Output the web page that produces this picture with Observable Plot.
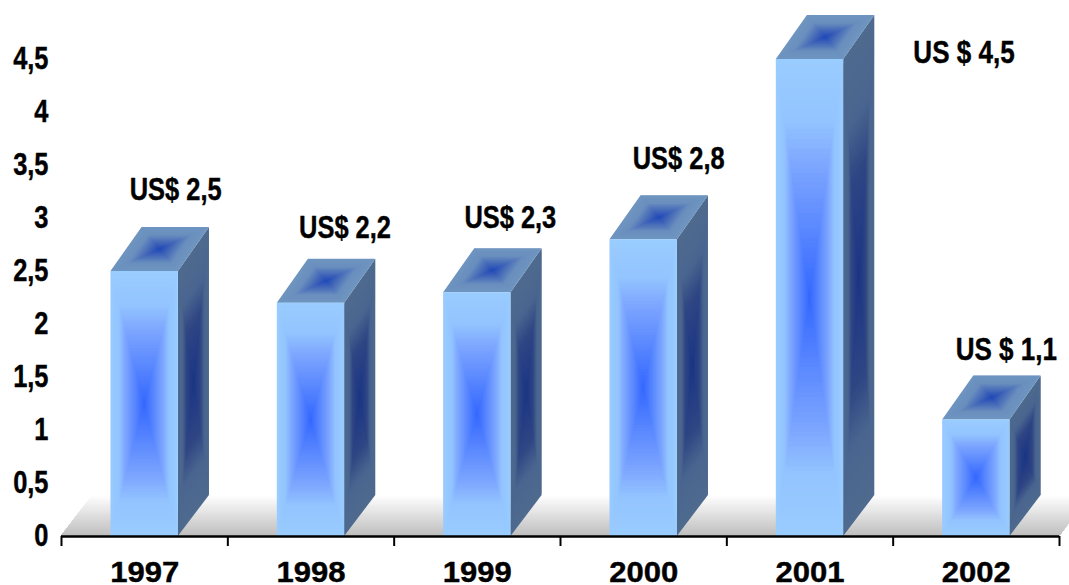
<!DOCTYPE html>
<html>
<head>
<meta charset="utf-8">
<script src="https://cdn.jsdelivr.net/npm/d3@7"></script>
<script src="https://cdn.jsdelivr.net/npm/@observablehq/plot@0.6"></script>
<style>
  html, body { margin: 0; padding: 0; background: #fff; overflow: hidden; }
</style>
</head>
<body>
<div id="chart"></div>
<script>
// Annual amounts, in US$ billions
const years = ["1997", "1998", "1999", "2000", "2001", "2002"];
const amounts = [2.5, 2.2, 2.3, 2.8, 4.5, 1.1];
const valueLabels = ["US$ 2,5", "US$ 2,2", "US$ 2,3", "US$ 2,8", "US $ 4,5", "US $ 1,1"];
const yTicks = [0, 0.5, 1, 1.5, 2, 2.5, 3, 3.5, 4, 4.5];
const xBoundaries = [0, 1, 2, 3, 4, 5, 6];

// Hand-placed label nudges in pixels, relative to the top centre of each bar
const labelDx = [31, 34, 33, 35, 154, 30];
const labelDy = [-81, -75, -75, -81, -6, -70];

const font = "'Liberation Sans', Arial, sans-serif";

// Bar geometry in scale units
const halfWidth = 0.2025;
const depthX = 0.187;
const depthTop = 0.415;
const depthBase = 0.387;

// Face shading: position from edge (0) to centre (1) and the colour there
const frontStops = [0, 0.25, 0.42, 1];
const frontColors = ["#99ccff", "#93c4ff", "#7fa8ff", "#3366ff"];
const sideStops = [0, 0.3, 0.55, 1];
const sideColors = ["#4e6a8e", "#4a6690", "#2f4684", "#1b3585"];
const topStops = [0, 0.35, 0.7, 1];
const topColors = ["#6f95c0", "#6a8fbe", "#4468b8", "#1f48b8"];

const STEPS = 48;

// Concentric copies of a quadrilateral, shaded through a ramp towards its centre
function shadedQuad(id, [a, b, c, d], stops, colors) {
  const mid = [(a[0] + b[0] + c[0] + d[0]) / 4, (a[1] + b[1] + c[1] + d[1]) / 4];
  const ramp = d3.scaleLinear().domain(stops).range(colors);
  const toward = (p, s) => [p[0] + (mid[0] - p[0]) * s, p[1] + (mid[1] - p[1]) * s];
  const rows = [];
  for (let k = 0; k < STEPS; ++k) {
    const s = k / STEPS;
    const [pa, pb, pc, pd] = [a, b, c, d].map((p) => toward(p, s));
    const fill = ramp(s);
    const z = `${id}-${k}`;
    rows.push({z, fill, x1: pa[0], y1: pa[1], x2: pd[0], y2: pd[1]});
    rows.push({z, fill, x1: pb[0], y1: pb[1], x2: pc[0], y2: pc[1]});
  }
  return rows;
}

const faceRows = amounts.flatMap((v, i) => {
  const left = i + 0.5 - halfWidth;
  const right = i + 0.5 + halfWidth;
  const front = shadedQuad(`front${i}`,
    [[left, 0], [left, v], [right, v], [right, 0]], frontStops, frontColors);
  const side = shadedQuad(`side${i}`,
    [[right, 0], [right, v], [right + depthX, v + depthTop], [right + depthX, depthBase]],
    sideStops, sideColors);
  const top = shadedQuad(`top${i}`,
    [[left, v], [left + depthX, v + depthTop], [right + depthX, v + depthTop], [right, v]],
    topStops, topColors);
  return [...side, ...top, ...front];
});

// Grey floor fading to white towards the back
const floorRows = d3.range(0, 60).flatMap((k) => {
  const t = 1 - k / 60;
  const fill = d3.interpolateRgb("#ffffff", "#bdbdbd")(k / 60);
  const z = `floor${k}`;
  return [
    {z, fill, x1: 0, y1: 0, x2: 6, y2: 0},
    {z, fill, x1: depthX * t, y1: depthBase * t, x2: 6 + depthX * t, y2: depthBase * t}
  ];
});

const labelMarks = amounts.map((v, i) =>
  Plot.text([valueLabels[i]], {
    x: i + 0.5,
    y: v,
    dx: labelDx[i],
    dy: labelDy[i],
    fontSize: 31,
    fontWeight: "bold",
    fontFamily: font,
    fill: "#000",
    stroke: "#000",
    strokeWidth: 0.4
  })
);

const chart = Plot.plot({
  width: 1069,
  height: 585,
  marginLeft: 61,
  marginRight: 10,
  marginTop: 59,
  marginBottom: 49,
  style: {background: "#fff", overflow: "hidden"},
  x: {domain: [0, 6]},
  y: {domain: [0, 4.5]},
  color: {type: "identity"},
  marks: [
    Plot.area(floorRows, {x1: "x1", y1: "y1", x2: "x2", y2: "y2", z: "z", fill: "fill"}),
    Plot.area(faceRows, {x1: "x1", y1: "y1", x2: "x2", y2: "y2", z: "z", fill: "fill"}),
    Plot.ruleY([0], {stroke: "#000", strokeWidth: 2.5}),
    // Boundary ticks between the years
    Plot.axisX({
      ticks: xBoundaries,
      tickSize: 10,
      tickFormat: () => "",
      strokeWidth: 2,
      stroke: "#000"
    }),
    // Year names centred under each bar
    Plot.axisX({
      ticks: years.map((_, i) => i + 0.5),
      tickSize: 0,
      tickPadding: 25,
      tickFormat: (d) => years[Math.floor(d)],
      fontSize: 29,
      fontWeight: "bold",
      fontFamily: font,
      fill: "#000",
      textStroke: "#000",
      textStrokeWidth: 0.4,
      label: null
    }),
    Plot.axisY({
      ticks: yTicks,
      tickSize: 0,
      tickPadding: 13,
      tickFormat: (d) => String(d).replace(".", ","),
      fontSize: 31,
      fontWeight: "bold",
      fontFamily: font,
      fill: "#000",
      textStroke: "#000",
      textStrokeWidth: 0.4,
      label: null
    }),
    ...labelMarks
  ]
});

document.getElementById("chart").append(chart);

// The type is set taller than it is wide, except the year names which run slightly wide
for (const t of chart.querySelectorAll("text")) {
  const s = t.textContent;
  if (!s) { t.remove(); continue; }
  const factor = /^\d{4}$/.test(s) ? 1.07 : /^US \$/.test(s) ? 0.84 : 0.82;
  t.setAttribute("lengthAdjust", "spacingAndGlyphs");
  t.setAttribute("textLength", t.getComputedTextLength() * factor);
}
</script>
</body>
</html>
